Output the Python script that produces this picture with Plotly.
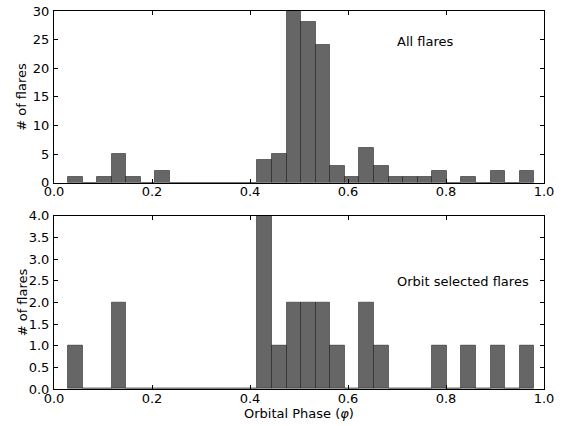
import plotly.graph_objects as go

bin_start = 0.0287
bin_width = 0.02973
all_counts = [1, 0, 1, 5, 1, 0, 2, 0, 0, 0, 0, 0, 0, 4, 5, 30,
              28, 24, 3, 1, 6, 3, 1, 1, 1, 2, 0, 1, 0, 2, 0, 2]
orbit_counts = [1, 0, 0, 2, 0, 0, 0, 0, 0, 0, 0, 0, 0, 4, 1, 2,
                2, 2, 1, 0, 2, 1, 0, 0, 0, 1, 0, 1, 0, 1, 0, 1]
x_ticks = [0.0, 0.2, 0.4, 0.6, 0.8, 1.0]
top_yticks = [0, 5, 10, 15, 20, 25, 30]
bot_yticks = [0.0, 0.5, 1.0, 1.5, 2.0, 2.5, 3.0, 3.5, 4.0]

centers = [bin_start + (k + 0.5) * bin_width for k in range(len(all_counts))]

FONT = "DejaVu Sans"
FS = 13
fig = go.Figure()
bar_style = dict(marker=dict(color="#666666", line=dict(color="rgba(0,0,0,0.45)", width=1)),
                 width=bin_width, showlegend=False, hoverinfo="skip")
fig.add_trace(go.Bar(x=centers, y=all_counts, xaxis="x", yaxis="y", **bar_style))
fig.add_trace(go.Bar(x=centers, y=orbit_counts, xaxis="x2", yaxis="y2", **bar_style))

axis_common = dict(showline=True, linecolor="black", linewidth=1, mirror="ticks",
                   ticks="inside", ticklen=4, tickcolor="black", tickwidth=1,
                   showgrid=False, zeroline=False, automargin=False,
                   tickfont=dict(family=FONT, size=FS, color="black"))

fig.update_layout(
    width=563, height=426,
    margin=dict(l=54, r=19, t=11, b=37),
    plot_bgcolor="white", paper_bgcolor="white",
    bargap=0,
    font=dict(family=FONT, size=FS, color="black"),
    xaxis=dict(domain=[0, 1], anchor="y", range=[0, 1], tickvals=x_ticks,
               ticktext=[f"{v:.1f}" for v in x_ticks], ticklabelstandoff=-3, **axis_common),
    yaxis=dict(domain=[0.5458, 1.0], anchor="x", range=[0, 30], tickvals=top_yticks,
               ticklabelstandoff=1, **axis_common),
    xaxis2=dict(domain=[0, 1], anchor="y2", range=[0, 1], tickvals=x_ticks,
                ticktext=[f"{v:.1f}" for v in x_ticks], ticklabelstandoff=-3, **axis_common),
    yaxis2=dict(domain=[0, 0.4585], anchor="x2", range=[0, 4], tickvals=bot_yticks,
                ticktext=[f"{v:.1f}" for v in bot_yticks], ticklabelstandoff=1, **axis_common),
    annotations=[
        dict(text="All flares", x=0.757, y=24.7, xref="x", yref="y", showarrow=False,
             font=dict(family=FONT, size=FS), xanchor="center", yanchor="middle"),
        dict(text="Orbit selected flares", x=0.834, y=2.49, xref="x2", yref="y2", showarrow=False,
             font=dict(family=FONT, size=FS), xanchor="center", yanchor="middle"),
        dict(text="# of flares", x=-0.0653, y=(0.5458 + 1.0) / 2, xref="paper", yref="paper",
             textangle=-90, showarrow=False, font=dict(family=FONT, size=FS),
             xanchor="center", yanchor="middle"),
        dict(text="# of flares", x=-0.0653, y=0.4585 / 2, xref="paper", yref="paper",
             textangle=-90, showarrow=False, font=dict(family=FONT, size=FS),
             xanchor="center", yanchor="middle"),
        dict(text="Orbital Phase (<i>φ</i>)", x=0.5, y=-0.0635, xref="paper", yref="paper",
             showarrow=False, font=dict(family=FONT, size=FS),
             xanchor="center", yanchor="middle"),
    ],
)

fig.write_html("out.html", config={"displayModeBar": False},
               post_script="document.body.style.margin='0';")
